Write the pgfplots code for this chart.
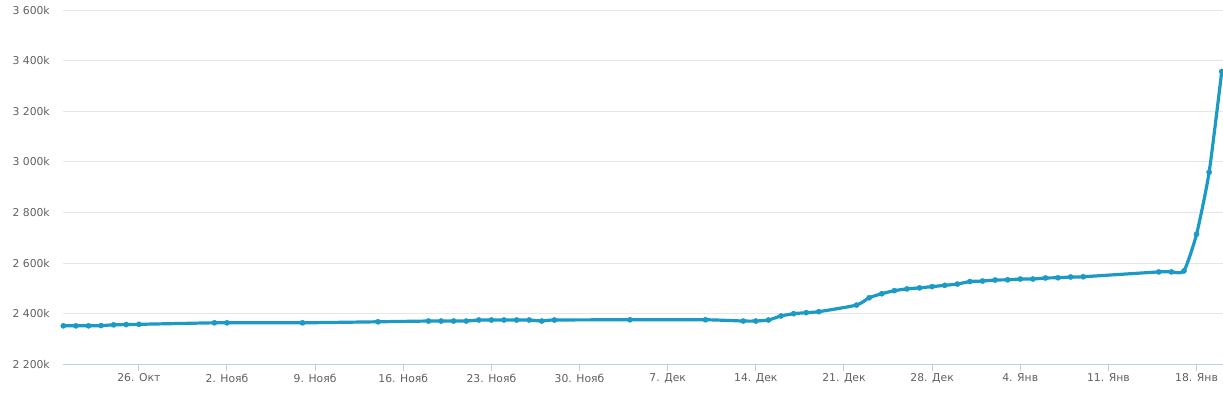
\documentclass[border=0pt]{standalone}
\usepackage{fontspec}
\setmainfont{DejaVu Sans}
\usepackage{pgfplots}
\pgfplotsset{compat=1.18}
\definecolor{serie}{RGB}{27,154,197}
\definecolor{gridc}{RGB}{230,230,230}
\definecolor{axisc}{RGB}{192,208,224}
\definecolor{labc}{RGB}{96,96,96}
\begin{document}
\begin{tikzpicture}[x=1pt,y=1pt]
\useasboundingbox (-63.3,-35.7) rectangle (1159.7,364.3);
\begin{axis}[
    at={(0,0)}, anchor=south west,
    scale only axis,
    width=1159.7pt, height=354.3pt,
    xmin=-6, xmax=86.1,
    ymin=2200, ymax=3600,
    axis x line*=bottom,
    axis y line*=left,
    y axis line style={draw=none},
    x axis line style={draw=axisc, line width=1pt, -},
    ytick={2200,2400,...,3600},
    yticklabels={2 200k,2 400k,2 600k,2 800k,3 000k,3 200k,3 400k,3 600k},
    ymajorgrids=true,
    grid style={gridc, line width=1pt},
    xtick={0,7,...,84},
    xticklabels={26. Окт,2. Нояб,9. Нояб,16. Нояб,23. Нояб,30. Нояб,7. Дек,14. Дек,21. Дек,28. Дек,4. Янв,11. Янв,18. Янв},
    xtick style={draw=axisc, line width=1pt},
    ytick style={draw=none},
    major tick length=7pt,
    xtick align=outside,
    tick label style={font=\fontsize{10.8}{12}\selectfont, text=labc},
    xticklabel style={yshift=1pt},
    yticklabel style={xshift=-10pt},
    clip=false,
]
\addplot[serie, line width=3.2pt, smooth, tension=0.35,
    mark=*, mark size=2.6pt, mark options={fill=serie, draw=serie, line width=0.4pt}]
coordinates {
(-6,2352)(-5,2352)(-4,2352)(-3,2353)(-2,2356)(-1,2357)(0,2358)
(6,2364)(7,2364)(13,2364)(19,2368)
(23,2371)(24,2371)(25,2371)(26,2371)(27,2375)(28,2375)(29,2375)(30,2375)(31,2375)(32,2371)(33,2375)
(39,2376)(45,2376)(48,2371)(49,2371)(50,2375)(51,2391)(52,2400)(53,2404)(54,2408)
(57,2434)(58,2463)(59,2479)(60,2491)(61,2498)(62,2502)(63,2507)(64,2512)(65,2517)
(66,2527)(67,2529)(68,2533)(69,2534)(70,2537)(71,2537)(72,2541)(73,2542)(74,2545)(75,2546)
(81,2565)(82,2565)(83,2569)(84,2714)(85,2959)(86,3357)
};
\end{axis}
\end{tikzpicture}
\end{document}
